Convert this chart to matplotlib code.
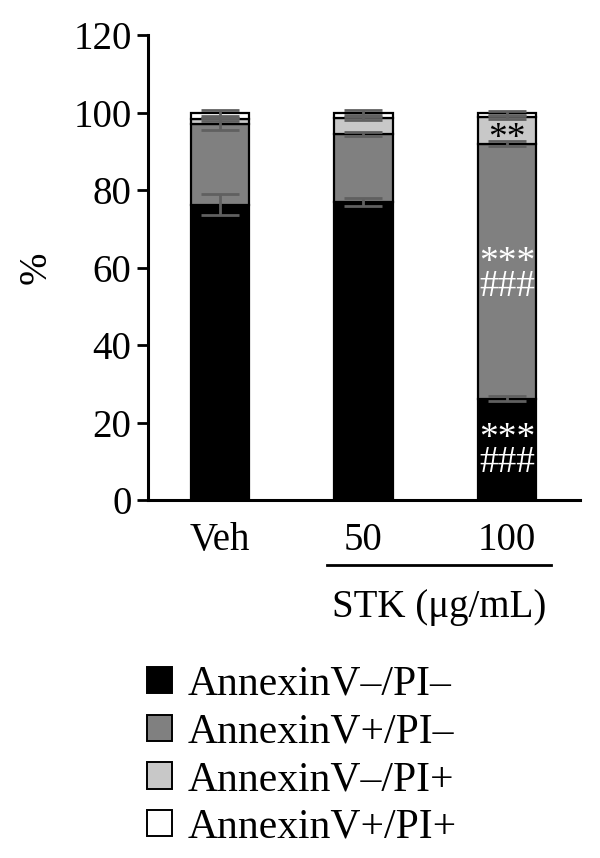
import numpy as np
import matplotlib
matplotlib.use("Agg")
import matplotlib.pyplot as plt
import matplotlib.transforms as mtransforms
from matplotlib.patches import Patch

plt.rcParams['font.family'] = ['Liberation Serif', 'DejaVu Serif']

# data
groups = ["Veh", "50", "100"]
labels = ["AnnexinV\u2013/PI\u2013", "AnnexinV+/PI\u2013",
          "AnnexinV\u2013/PI+", "AnnexinV+/PI+"]
live = [76.3, 77.0, 26.2]
early = [20.8, 17.6, 65.8]
necro = [1.2, 3.9, 6.8]
late = [1.7, 1.5, 1.2]
live_err = [2.8, 1.1, 0.7]
early_err = [1.5, 0.5, 0.6]
necro_err = [0.4, 0.4, 0.4]
late_err = [0.8, 0.6, 0.5]

colors = ["#000000", "#808080", "#c8c8c8", "#ffffff"]
err_color = "#606060"

fig = plt.figure(figsize=(6, 8.58), dpi=100)
ax = fig.add_axes([0.247, 0.417, 0.72, 0.542])

x = np.arange(len(groups))
w = 0.41
segments = [live, early, necro, late]
errs = [live_err, early_err, necro_err, late_err]
bottom = np.zeros(len(groups))
for seg, err, c in zip(segments, errs, colors):
    seg = np.array(seg)
    ax.bar(x, seg, w, bottom=bottom, color=c, edgecolor="black", linewidth=1.6, zorder=2)
    ax.errorbar(x, bottom + seg, yerr=err, fmt="none", ecolor=err_color,
                elinewidth=2, capsize=14, capthick=2, zorder=3)
    bottom = bottom + seg

# significance marks on the 100 bar (asterisks sit high in the font, so shift down)
mark = dict(ha="center", va="center", fontsize=27, zorder=4)
ax.text(2, live[2] + early[2] + necro[2] / 2 - 2.2, "**", color="black", **mark)
ax.text(2, 58.2, "***\n###", color="white", linespacing=0.62, multialignment="center", **mark)
ax.text(2, 12.8, "***\n###", color="white", linespacing=0.62, multialignment="center", **mark)

ax.set_xlim(-0.5, 2.51)
ax.set_ylim(0, 120)
ax.set_yticks(np.arange(0, 121, 20))
ax.set_xticks(x)
ax.set_xticklabels(groups, fontsize=28)
ax.tick_params(axis="y", labelsize=28, length=8, width=2, direction="out", pad=4)
ax.tick_params(axis="x", length=0, pad=16)
ax.set_ylabel("%", fontsize=28, labelpad=13)
for s in ["top", "right"]:
    ax.spines[s].set_visible(False)
for s in ["left", "bottom"]:
    ax.spines[s].set_linewidth(2.2)

# STK group line and label
trans = mtransforms.blended_transform_factory(ax.transData, ax.transAxes)
ax.plot([0.745, 2.31], [-0.140, -0.140], color="black", lw=2, transform=trans, clip_on=False)
ax.text(1.53, -0.19, "STK (\u03bcg/mL)", ha="center", va="top", fontsize=28, transform=trans)

handles = [Patch(facecolor=c, edgecolor="black", linewidth=1.4) for c in colors]
fig.legend(handles, labels, loc="upper left", bbox_to_anchor=(0.245, 0.2245),
           frameon=False, fontsize=30, handlelength=0.6, handleheight=0.6,
           handletextpad=0.38, labelspacing=0.22, borderaxespad=0, borderpad=0)

fig.savefig("out.png", dpi=100)
